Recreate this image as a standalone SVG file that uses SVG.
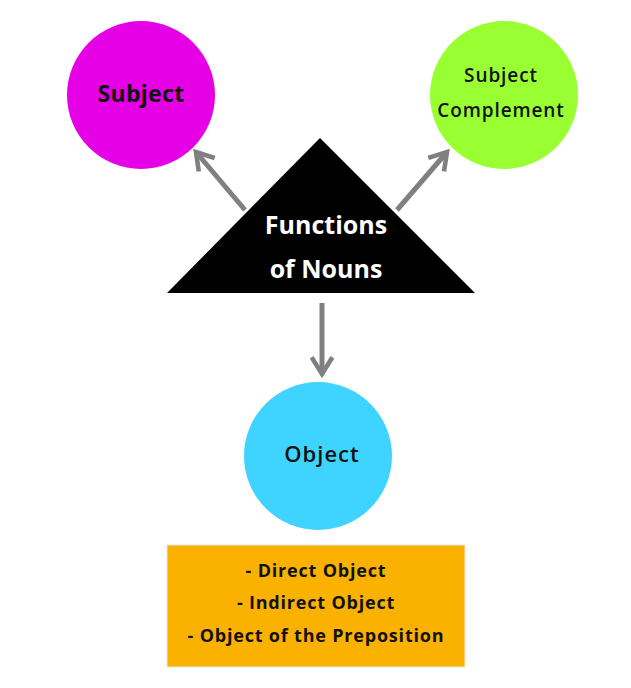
<svg xmlns="http://www.w3.org/2000/svg" width="631" height="688" viewBox="0 0 631 688">
<defs>
<marker id="chev" viewBox="0 0 12 12" refX="10" refY="6" markerWidth="5" markerHeight="5" orient="auto" markerUnits="strokeWidth">
<polyline points="2,1 10,6 2,11" fill="none" stroke="#808080" stroke-width="2.2" stroke-linecap="butt" stroke-linejoin="miter"/>
</marker>
<style>
.lbl{font-family:"Open Sans","Liberation Sans",sans-serif;font-weight:700;fill:#111;text-anchor:middle}
.semi{font-weight:600}
.conn{stroke:#808080;stroke-width:5;fill:none}
</style>
</defs>
<rect width="631" height="688" fill="#fff"/>
<g id="connectors">
<line class="conn" x1="245" y1="210" x2="196" y2="152" marker-end="url(#chev)"/>
<line class="conn" x1="397" y1="210" x2="447" y2="152" marker-end="url(#chev)"/>
<line class="conn" x1="322" y1="303" x2="322" y2="374" marker-end="url(#chev)"/>
</g>
<g id="subject">
<circle cx="141" cy="95" r="74" fill="#E500E5"/>
<text class="lbl" x="141" y="102" font-size="23" letter-spacing="0.3">Subject</text>
</g>
<g id="subject-complement">
<circle cx="504" cy="95" r="74" fill="#99FF33"/>
<text class="lbl semi" x="501" y="82" font-size="19" letter-spacing="0.9">Subject</text>
<text class="lbl semi" x="501" y="117" font-size="19" letter-spacing="0.9">Complement</text>
</g>
<g id="functions">
<polygon points="320,138 167,293 475,293" fill="#000"/>
<text class="lbl" x="326" y="234" font-size="25" style="fill:#fff">Functions</text>
<text class="lbl" x="326" y="278" font-size="25" style="fill:#fff">of Nouns</text>
</g>
<g id="object">
<circle cx="318" cy="456" r="74" fill="#3FD3FF"/>
<text class="lbl semi" x="322" y="462" font-size="22" letter-spacing="1">Object</text>
</g>
<g id="object-types">
<rect x="167" y="545" width="298" height="122" fill="#FBB100" stroke="#e8e8e8" stroke-width="1"/>
<text class="lbl" x="316" y="577" font-size="18" letter-spacing="0.8">- Direct Object</text>
<text class="lbl" x="316" y="609" font-size="18" letter-spacing="0.8">- Indirect Object</text>
<text class="lbl" x="316" y="642" font-size="18" letter-spacing="0.8">- Object of the Preposition</text>
</g>
</svg>
